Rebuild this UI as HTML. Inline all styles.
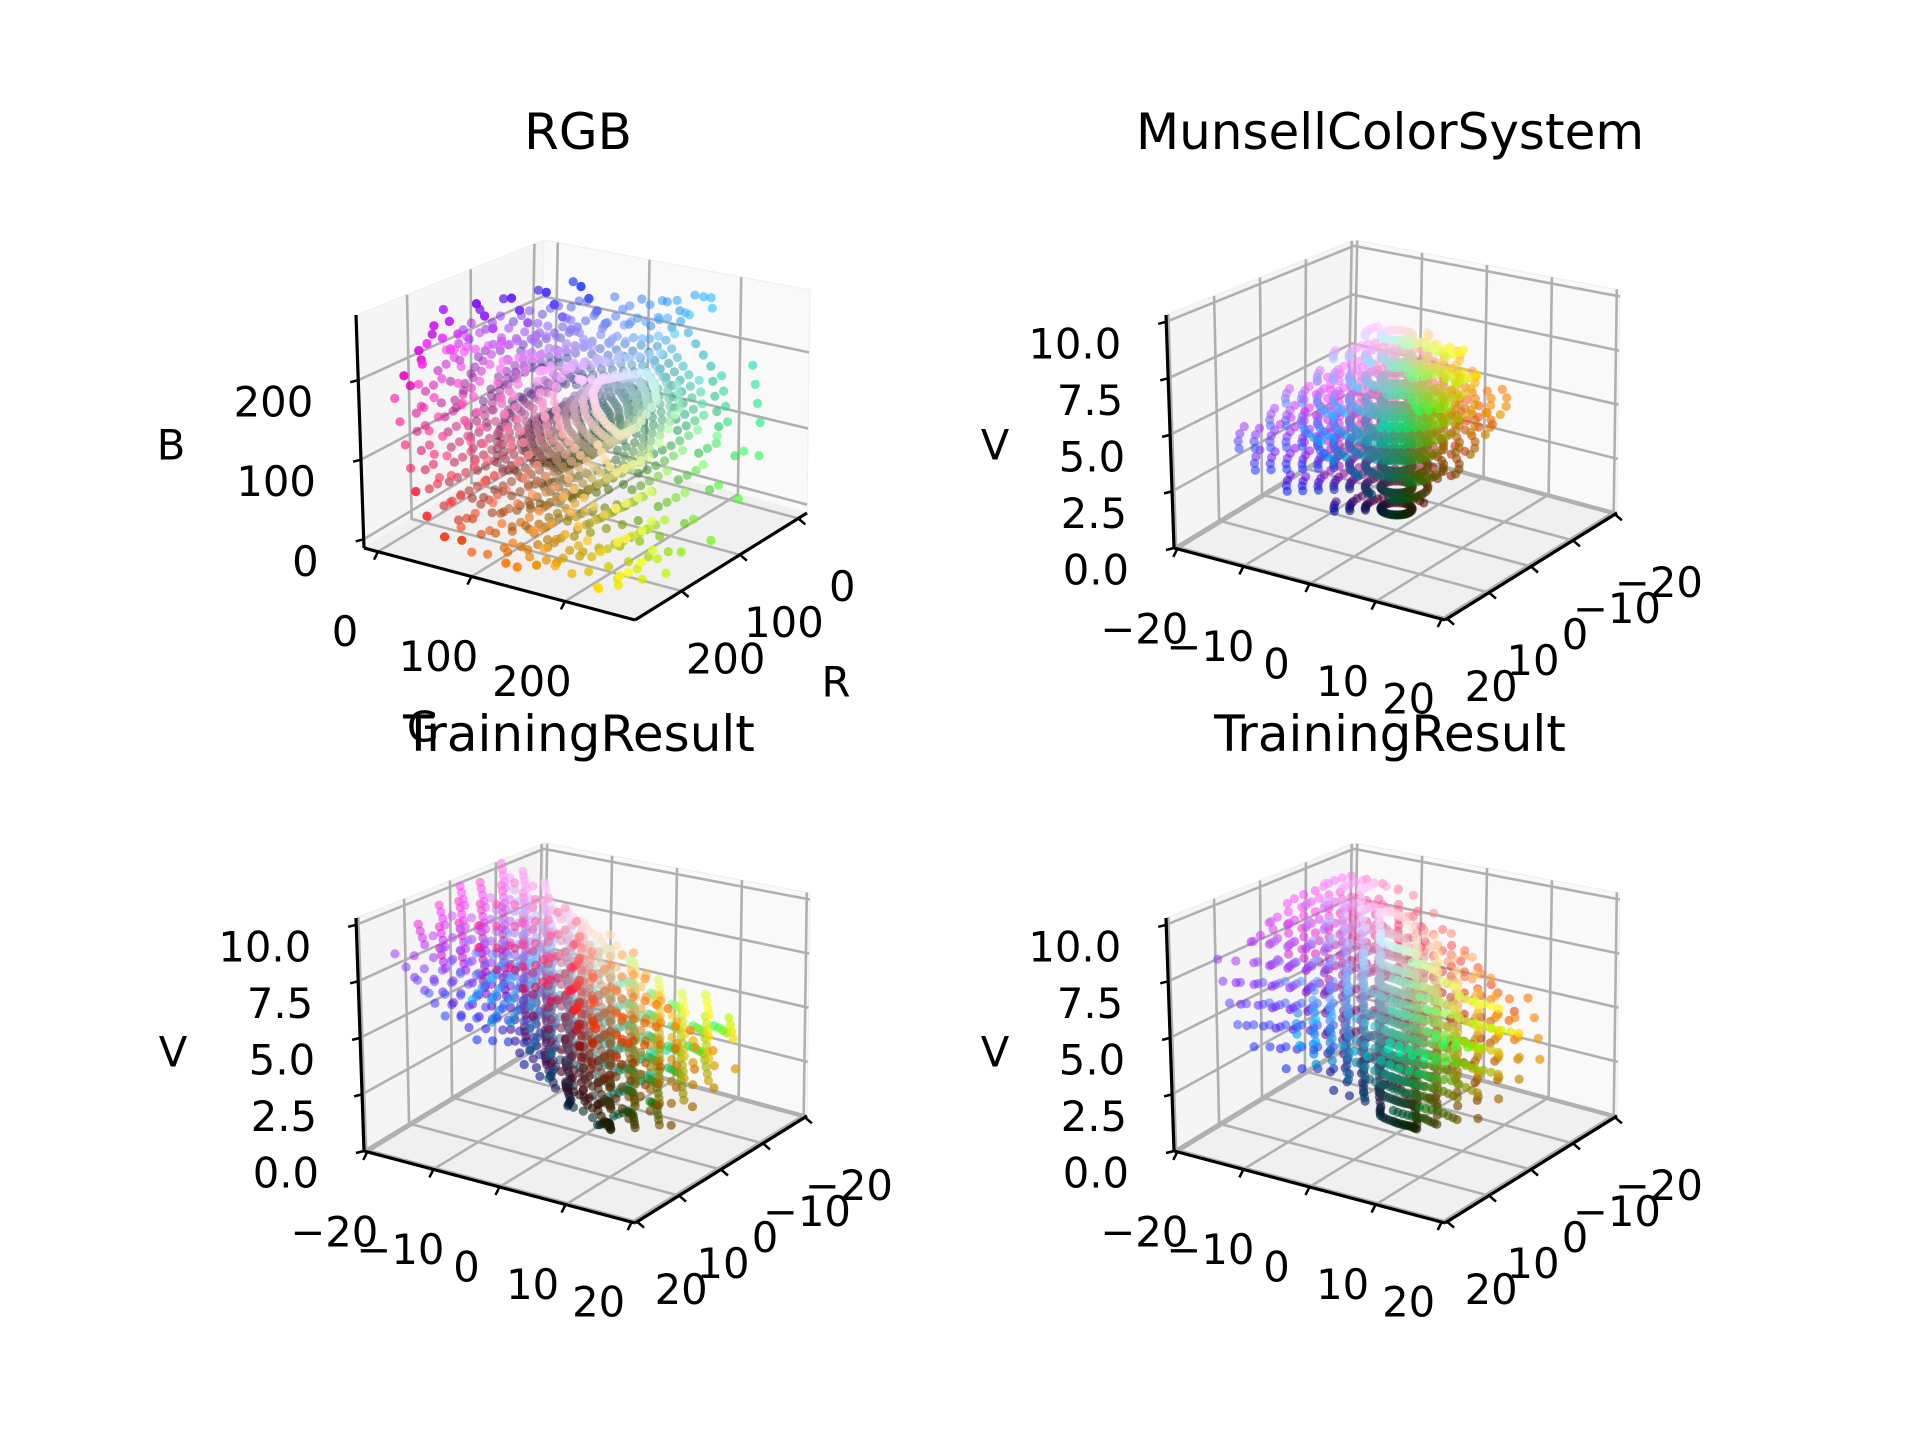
<!DOCTYPE html>
<html><head><meta charset="utf-8"><style>
html,body{margin:0;padding:0;background:#fff;}
svg{display:block;font-family:"DejaVu Sans","Liberation Sans",sans-serif;}
</style></head><body>
<svg id="fig" xmlns="http://www.w3.org/2000/svg" width="1920" height="1440" viewBox="0 0 1920 1440">
<rect width="1920" height="1440" fill="#fff"/>
<text x="578" y="149" font-size="50" text-anchor="middle">RGB</text>
<text x="1390" y="149" font-size="50" text-anchor="middle">MunsellColorSystem</text>
<text x="579" y="751" font-size="50" text-anchor="middle">TrainingResult</text>
<text x="1390" y="751" font-size="50" text-anchor="middle">TrainingResult</text>
<g id="panels"></g>
</svg>
<script>
// ---- data arrays ----
const hueFamilies = ['Y','GY','G','BG','B','PB','P','RP','R','YR'];
const pureR = [255,150,0,0,0,60,180,255,230,255];
const pureG = [220,230,230,220,170,80,40,40,30,130];
const pureB = [0,0,100,200,255,255,255,180,60,30];
const peakValue = [8.5,7,6,5,5,3.5,3.5,4.5,4,6];
const maxChroma = [14,12,10,8,12,22,18,14,14,14];
const munsellValues = [1,2,3,4,5,6,7,8,9];
const subHueSteps = [0,0.25,0.5,0.75];
// panel 2 (Munsell) hue angles (deg)
const hueAngle2 = [0,25,50,75,110,140,170,210,260,310];
// panel 3 training result mapping
const hueAngle3 = [-19,-25,-35,-60,150,155,160,165,90,10];
const chromaScale3 = [1.6,1.5,1.3,0.8,1.2,1.0,1.3,1.4,0.3,1.0];
const valueOffset3 = [-3,-2,-2,-3,1,2,4,5,3,1];
// panel 4 training result mapping
const hueAngle4 = [-10,15,40,70,115,145,165,200,250,320];
const chromaScale4 = [1.4,1.3,1.2,1.1,1.2,1.0,1.2,1.2,1.1,1.2];
const valueOffset4 = [-2.5,-1.5,-1,-0.5,0,1,4,4,3,0];
// axis ticks
const rgbTicks = [0,100,200];
const abTicks = [-20,-10,0,10,20];
const vTicks = [0,2.5,5,7.5,10];

// ---- geometry ----
const base = {A:[1174,548],B:[1445,620],C:[1617,513],D:[1350,441],
  A2:[1166,315],B2:[1448,383],C2:[1620,290],D2:[1354,240]};
const NS="http://www.w3.org/2000/svg";
const root=document.getElementById('panels');
function mk(tag,attrs,parent){const e=document.createElementNS(NS,tag);for(const k in attrs)e.setAttribute(k,attrs[k]);(parent||root).appendChild(e);return e;}

function makePanel(dx,dy,xr,yr,zr){
  const g={};for(const k in base)g[k]=[base[k][0]+dx,base[k][1]+dy];
  return {g,xr,yr,zr};
}
function lerp(a,b,t){return [a[0]+(b[0]-a[0])*t,a[1]+(b[1]-a[1])*t];}
function proj(P,x,y,z){
  const u=(x-P.xr[0])/(P.xr[1]-P.xr[0]);
  const t=(P.yr[1]-y)/(P.yr[1]-P.yr[0]);
  const s=(z-P.zr[0])/(P.zr[1]-P.zr[0]);
  const g=P.g;
  function quad(A,B,C,D){return [
    (1-u)*(1-t)*A[0]+u*(1-t)*B[0]+u*t*C[0]+(1-u)*t*D[0],
    (1-u)*(1-t)*A[1]+u*(1-t)*B[1]+u*t*C[1]+(1-u)*t*D[1]];}
  const f=quad(g.A,g.B,g.C,g.D), tp=quad(g.A2,g.B2,g.C2,g.D2);
  return lerp(f,tp,s);
}
function fmt(v,dec){const s=dec?v.toFixed(1):String(v);return s.replace('-','\u2212');}

function drawAxes(P,name,xt,yt,zt,zdec,xdec){
  const grp=mk('g',{});
  
  
  const g=P.g;
  const pts=a=>a.map(p=>p.join(',')).join(' ');
  let e=mk('polygon',{points:pts([g.A,g.B,g.C,g.D]),fill:'#f0f0f0',stroke:'#ececec','stroke-width':1},grp);
  
  e=mk('polygon',{points:pts([g.A,g.D,g.D2,g.A2]),fill:'#f5f5f5',stroke:'#eeeeee','stroke-width':1},grp);
  
  e=mk('polygon',{points:pts([g.D,g.C,g.C2,g.D2]),fill:'#f9f9f9',stroke:'#eeeeee','stroke-width':1},grp);
  
  const [x0,x1]=P.xr,[y0,y1]=P.yr,[z0,z1]=P.zr;
  const gl={stroke:'#b0b0b0','stroke-width':2.6,fill:'none'};
  function line(a,attrs,nm){const l=mk('polyline',Object.assign({points:a.map(p=>p[0].toFixed(1)+','+p[1].toFixed(1)).join(' ')},attrs),grp);
    
    
    return l;}
  xt.forEach(v=>line([proj(P,v,y1,z0),proj(P,v,y0,z0),proj(P,v,y0,z1)],gl,'x-gridline'));
  yt.forEach(v=>line([proj(P,x1,v,z0),proj(P,x0,v,z0),proj(P,x0,v,z1)],gl,'y-gridline'));
  zt.forEach(v=>line([proj(P,x0,y1,v),proj(P,x0,y0,v),proj(P,x1,y0,v)],gl,'z-gridline'));
  const al={stroke:'#000','stroke-width':3.2,fill:'none'};
  line([g.A,g.B],al,'x-axis-line');
  line([g.B,g.C],al,'y-axis-line');
  line([g.A,g.A2],al,'z-axis-line');
  xt.forEach(v=>{const p=proj(P,v,y1,z0);line([p,[p[0]-4,p[1]+8]],{stroke:'#000','stroke-width':2.5},'x-tick');
    const t=mk('text',{x:p[0]-33,y:p[1]+80,'font-size':41.7,'text-anchor':'middle','dominant-baseline':'central'},grp);t.textContent=fmt(v,xdec);
    
    });
  yt.forEach(v=>{const p=proj(P,x1,v,z0);line([p,[p[0]+7,p[1]+6]],{stroke:'#000','stroke-width':2.5},'y-tick');
    const t=mk('text',{x:p[0]+44,y:p[1]+68,'font-size':41.7,'text-anchor':'middle','dominant-baseline':'central'},grp);t.textContent=fmt(v,xdec);
    
    });
  zt.forEach(v=>{const p=proj(P,x0,y1,v);line([p,[p[0]-8,p[1]+2]],{stroke:'#000','stroke-width':2.5},'z-tick');
    const t=mk('text',{x:p[0]-45,y:p[1]+22,'font-size':41.7,'text-anchor':'end','dominant-baseline':'central'},grp);t.textContent=fmt(v,zdec);
    
    });
}

// ---- Munsell-like samples ----
function clamp(v){return Math.max(0,Math.min(255,v));}
const samples=[];
hueFamilies.forEach((h,hi)=>{
  subHueSteps.forEach(sub=>{
    const hn=(hi+1)%10;
    munsellValues.forEach(v=>{
      const pk=peakValue[hi];
      const d=v<pk?(pk-v)/pk:(v-pk)/(10-pk);
      const cmax=Math.max(2,maxChroma[hi]*Math.pow(Math.max(0,1-d),0.8));
      for(let c=2;c<=cmax+0.01;c+=2){
        const pr=pureR[hi]*(1-sub)+pureR[hn]*sub, pg=pureG[hi]*(1-sub)+pureG[hn]*sub, pb=pureB[hi]*(1-sub)+pureB[hn]*sub;
        const lum=0.3*pr+0.59*pg+0.11*pb, gray=255*v/10, f=Math.min(1.2,c/10);
        samples.push({hi,hn,sub,v,c,r:clamp(gray+(pr-lum)*f),g:clamp(gray+(pg-lum)*f),b:clamp(gray+(pb-lum)*f)});
      }
    });
  });
});
function angInterp(arr,s){let a=arr[s.hi],b=arr[s.hn];let dd=b-a;while(dd>180)dd-=360;while(dd<-180)dd+=360;return (a+dd*s.sub)*Math.PI/180;}
function scInterp(arr,s){return arr[s.hi]*(1-s.sub)+arr[s.hn]*s.sub;}

function drawPoints(P,name,coordFn){
  const grp=mk('g',{});
  
  
  const list=samples.map(s=>{const q=coordFn(s);
    const u=(q[0]-P.xr[0])/(P.xr[1]-P.xr[0]), t=(P.yr[1]-q[1])/(P.yr[1]-P.yr[0]);
    return {s,q,near:u+(1-t)};}).sort((a,b)=>a.near-b.near);
  list.forEach(o=>{const p=proj(P,o.q[0],o.q[1],o.q[2]);
    const al=Math.max(0.3,Math.min(0.9,0.3+0.3*o.near));
    const c=mk('circle',{cx:p[0].toFixed(1),cy:p[1].toFixed(1),r:4.6,fill:`rgb(${o.s.r|0},${o.s.g|0},${o.s.b|0})`,'fill-opacity':al.toFixed(2)},grp);
    
    
  });
}

const DY=603;
// Panel 1 RGB
const P1=makePanel(-810,0,[-15,275],[-15,280],[-11,282]);
drawAxes(P1,'rgb',rgbTicks,rgbTicks,rgbTicks,false,false);
drawPoints(P1,'rgb',s=>[s.g,s.r,s.b]);
// Panel 2 Munsell
const P2=makePanel(0,0,[-20.5,20.5],[-20.5,20.5],[0,10.3]);
drawAxes(P2,'munsell',abTicks,abTicks,vTicks,true,false);
drawPoints(P2,'munsell',s=>{const a=angInterp(hueAngle2,s);return [s.c*Math.cos(a),s.c*Math.sin(a),s.v];});
// Panel 3
const P3=makePanel(-810,DY,[-20.5,20.5],[-20.5,20.5],[0,10.3]);
drawAxes(P3,'training-1',abTicks,abTicks,vTicks,true,false);
drawPoints(P3,'training-1',s=>{const a=angInterp(hueAngle3,s),k=scInterp(chromaScale3,s),vo=scInterp(valueOffset3,s);
  return [s.c*k*Math.cos(a),s.c*k*Math.sin(a),Math.max(0.3,s.v+vo*Math.min(1,s.c/8))];});
// Panel 4
const P4=makePanel(0,DY,[-20.5,20.5],[-20.5,20.5],[0,10.3]);
drawAxes(P4,'training-2',abTicks,abTicks,vTicks,true,false);
drawPoints(P4,'training-2',s=>{const a=angInterp(hueAngle4,s),k=scInterp(chromaScale4,s),vo=scInterp(valueOffset4,s);
  return [s.c*k*Math.cos(a),s.c*k*Math.sin(a),Math.max(0.3,s.v+vo*Math.min(1,s.c/8))];});

// axis labels
[['B',171,445,'z-axis-title-b'],['G',423,727,'x-axis-title-g'],['R',836,682,'y-axis-title-r'],
 ['V',995,445,'z-axis-title-v-1'],['V',173,1052,'z-axis-title-v-2'],['V',995,1052,'z-axis-title-v-3']].forEach(a=>{
  const t=mk('text',{x:a[1],y:a[2],'font-size':41.7,'text-anchor':'middle','dominant-baseline':'central'});
  t.textContent=a[0];
  
  
});
</script>
</body></html>
